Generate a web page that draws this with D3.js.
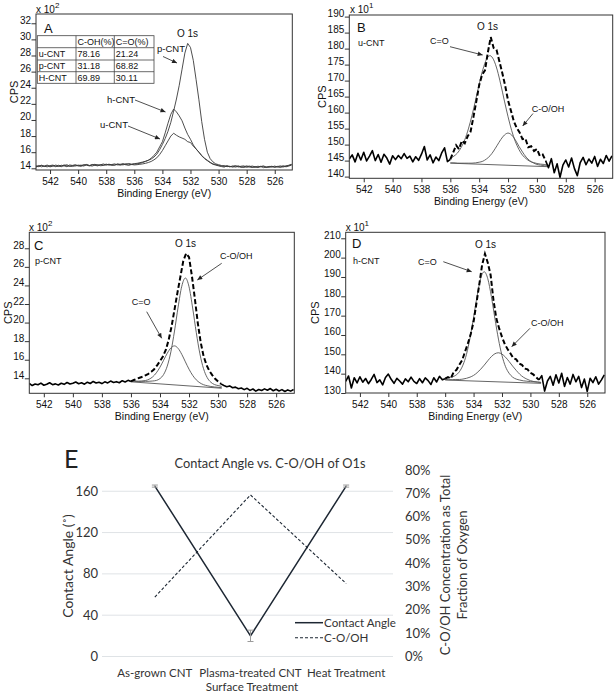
<!DOCTYPE html>
<html><head><meta charset="utf-8">
<script src="https://cdn.jsdelivr.net/npm/d3@7"></script>
<style>body{margin:0;background:#fff}svg{display:block}</style>
</head><body><svg id="chart" width="614" height="693"></svg>
<script>
// ---------------- DATA ----------------
// XPS energy grid (eV): 543.0 down to 524.8, step 0.2
const energyStart = 543.0, energyStep = 0.2, energyCount = 92;
// fitted-component grid (eV): from 536.0 downward, step 0.25
const fitStart = 536.0, fitStep = 0.25;
const xTicks = [542, 540, 538, 536, 534, 532, 530, 528, 526];

// Panel A (x10^2 CPS)
const aPCNT = [14.22,14.35,14.18,14.30,14.40,14.25,14.33,14.20,14.38,14.28,14.42,14.30,14.24,14.36,14.45,14.32,14.40,14.28,14.44,14.35,14.48,14.37,14.30,14.46,14.40,14.52,14.38,14.47,14.55,14.42,14.50,14.58,14.45,14.60,14.52,14.58,
  14.62,14.70,14.78,14.88,15.00,15.15,15.40,15.75,16.30,16.95,17.70,18.60,19.70,21.10,22.60,24.30,26.30,28.30,29.50,29.00,27.40,25.00,22.50,19.80,17.60,16.00,15.20,14.80,14.55,14.45,
  14.35,14.22,14.30,14.18,14.28,14.15,14.24,14.12,14.20,14.30,14.16,14.10,14.22,14.14,14.25,14.08,14.18,14.12,14.20,14.15,14.24,14.10,14.22,14.30,14.38,14.50];
const aHCNT = [14.30,14.20,14.36,14.25,14.18,14.34,14.40,14.27,14.22,14.38,14.30,14.20,14.42,14.35,14.28,14.40,14.33,14.46,14.38,14.30,14.42,14.50,14.36,14.44,14.54,14.40,14.50,14.44,14.38,14.56,14.48,14.42,14.58,14.50,14.46,14.52,
  14.55,14.62,14.72,14.85,15.00,15.25,15.60,16.00,16.65,17.30,18.40,19.60,20.70,21.35,21.00,20.50,19.90,19.00,18.20,17.60,16.90,16.40,16.00,15.60,15.25,15.00,14.75,14.55,14.45,14.35,
  14.28,14.35,14.20,14.26,14.14,14.24,14.30,14.18,14.10,14.22,14.28,14.16,14.12,14.26,14.18,14.22,14.10,14.24,14.16,14.28,14.14,14.20,14.32,14.18,14.28,14.40];
const aUCNT = [14.15,14.28,14.38,14.22,14.32,14.18,14.26,14.40,14.30,14.20,14.34,14.44,14.28,14.22,14.36,14.30,14.24,14.38,14.48,14.34,14.28,14.40,14.46,14.32,14.36,14.44,14.50,14.36,14.42,14.48,14.38,14.52,14.44,14.36,14.48,14.42,
  14.45,14.50,14.55,14.62,14.72,14.85,15.05,15.30,15.70,16.20,16.80,17.40,18.00,18.35,18.10,17.90,17.75,17.60,17.30,17.20,16.75,16.40,16.00,15.55,15.20,14.95,14.70,14.50,14.40,14.30,
  14.22,14.15,14.32,14.20,14.25,14.34,14.16,14.26,14.30,14.12,14.20,14.28,14.18,14.10,14.22,14.30,14.14,14.20,14.26,14.12,14.22,14.30,14.16,14.26,14.34,14.45];
const tableRows = ["u-CNT", "p-CNT", "H-CNT"];
const tableCOH = ["78.16", "31.18", "69.89"];
const tableCO = ["21.24", "68.82", "30.11"];

// Panel B: u-CNT (x10 CPS)
const bData = [145.5,146.8,144.6,147.3,145.2,147.6,144.9,146.4,148.1,145.0,146.9,144.5,147.0,145.8,143.9,146.5,145.3,146.6,145.6,147.2,145.7,146.4,144.6,146.2,145.1,147.0,149.4,145.2,146.8,144.3,146.1,145.0,147.4,149.0,144.7,145.4,
  147.6,149.8,148.6,151.2,150.4,152.6,154.0,158.6,163.5,168.6,171.8,173.2,178.8,183.6,180.2,179.6,176.0,172.4,168.4,163.8,160.6,157.3,155.2,153.8,151.7,151.9,149.2,149.5,148.0,148.6,146.5,146.9,145.0,
  142.8,145.6,141.2,144.0,139.8,143.6,145.2,143.0,145.8,142.5,140.3,144.4,146.0,143.7,145.5,144.2,146.3,143.2,145.4,144.1,146.6,144.8,146.5];
const bCO = [145.7,146.4,147.4,149.1,151.5,154.9,159.1,163.9,168.9,173.4,176.6,177.8,176.5,173.3,168.7,163.6,158.7,154.4,151.0,148.5,146.7,145.6,144.8,144.4,144.1,143.9,143.8,143.6];
const bCOH = [144.3,144.3,144.2,144.2,144.2,144.2,144.2,144.3,144.5,144.8,145.5,146.5,148.0,149.8,151.6,153.0,153.6,153.0,151.5,149.5,147.7,146.1,145.0,144.3,143.8,143.6,143.4,143.3];
const bBackground = [144.2, 143.1];

// Panel C: p-CNT (x10^2 CPS)
const cData = [13.45,13.22,13.38,13.30,13.48,13.25,13.36,13.52,13.31,13.40,13.28,13.47,13.35,13.55,13.38,13.46,13.60,13.42,13.51,13.37,13.58,13.44,13.66,13.49,13.57,13.43,13.62,13.50,13.70,13.55,13.64,13.52,13.74,13.60,13.78,13.66,
  13.82,13.95,14.06,14.16,14.32,14.48,14.70,14.98,15.40,15.85,16.35,17.05,18.15,19.60,21.40,23.20,24.90,26.60,27.45,27.05,25.00,22.60,20.00,17.90,16.40,15.45,14.80,14.35,13.95,13.65,13.40,
  13.22,13.10,13.18,12.98,13.05,12.88,12.95,12.78,12.92,12.70,12.85,12.62,12.80,12.68,12.86,12.72,12.90,12.66,12.82,12.64,12.78,12.58,12.75,12.62,12.80];
const cCO = [13.69,13.68,13.67,13.70,13.76,13.90,14.16,14.59,15.20,15.94,16.69,17.27,17.49,17.22,16.58,15.77,14.98,14.32,13.83,13.51,13.31,13.20,13.12,13.07,13.03,12.99];
const cCOH = [13.71,13.69,13.68,13.68,13.67,13.68,13.71,13.77,13.97,14.41,15.31,16.85,19.09,21.68,23.91,24.80,23.86,21.57,18.92,16.63,15.03,14.08,13.58,13.33,13.22,13.13];
const cBackground = [13.62, 12.93];

// Panel D: h-CNT (x10 CPS)
const dData = [136.0,138.8,132.6,137.9,135.2,138.4,135.6,137.5,134.8,137.0,139.6,135.4,136.8,134.2,138.0,139.8,137.1,135.0,137.6,136.2,134.6,137.3,135.8,138.2,136.0,134.9,137.4,135.3,137.8,136.4,134.4,137.9,135.7,138.6,136.8,137.4,
  138.2,137.6,140.8,142.0,144.6,147.0,151.4,155.6,160.5,166.8,176.4,186.0,196.2,202.0,197.4,191.0,178.0,168.6,163.4,159.0,155.2,152.6,150.4,148.0,147.4,145.2,144.6,142.6,142.2,140.4,139.6,138.2,136.8,
  139.0,131.0,136.2,138.6,134.0,139.4,135.2,140.2,133.4,138.0,134.6,139.6,135.8,138.6,132.8,137.2,130.8,137.6,135.4,138.4,134.6,136.8,139.4];
const dCO = [137.7,137.9,138.3,139.2,141.0,144.4,150.0,158.4,169.0,180.2,189.3,192.7,189.1,180.0,168.6,157.9,149.4,143.6,140.2,138.2,137.2,136.7,136.3,136.1,135.9,135.8,135.7,135.5];
const dCOH = [137.0,136.9,136.9,137.0,137.0,137.2,137.6,138.2,139.1,140.5,142.3,144.4,146.7,148.8,150.3,150.8,150.1,148.5,146.3,143.9,141.7,139.7,138.2,137.2,136.4,135.9,135.6,135.4];
const dBackground = [136.7, 135.0];

// Panel E
const treatments = ["As-grown CNT", "Plasma-treated CNT", "Heat Treatment"];
const contactAngle = [165, 20, 165];
const contactAngleErr = [1, 5.5, 1];
const coohFraction = [0.255, 0.693, 0.313];
const angleTicks = [0, 40, 80, 120, 160];
const fractionTicks = [0, 0.1, 0.2, 0.3, 0.4, 0.5, 0.6, 0.7, 0.8];

// ---------------- DRAWING ----------------
const svg = d3.select('#chart');
const FONT = "'Liberation Sans', Arial, sans-serif";
const EFONT = "Lato, 'Open Sans', sans-serif";
const energyGrid = d3.range(energyCount).map(i => +(energyStart - i * energyStep).toFixed(2));
const defs = svg.append('defs');
defs.append('marker').attr('id', 'arrow').attr('viewBox', '0 0 10 10')
  .attr('refX', 10).attr('refY', 5).attr('markerUnits', 'userSpaceOnUse')
  .attr('markerWidth', 6).attr('markerHeight', 5).attr('orient', 'auto')
  .append('path').attr('d', 'M0,0.5 L10,5 L0,9.5 z').attr('fill', '#222');

function txt(x, y, s, size, opts = {}) {
  return svg.append('text').attr('x', x).attr('y', y).attr('font-family', opts.font || FONT)
    .attr('font-size', size).attr('fill', opts.fill || '#111')
    .attr('text-anchor', opts.anchor || 'start').text(s);
}
function arrow(x1, y1, x2, y2) {
  svg.append('line').attr('x1', x1).attr('y1', y1).attr('x2', x2).attr('y2', y2)
    .attr('stroke', '#222').attr('stroke-width', 0.8).attr('marker-end', 'url(#arrow)');
}
function mult(x, y, exp) {
  const t = txt(x, y, 'x 10', 10);
  t.append('tspan').attr('dy', -5).attr('font-size', 8).text(exp);
}

function xpsPanel(p) {
  const x = d3.scaleLinear().domain([543.0, 524.75]).range([p.left, p.right]);
  const y = d3.scaleLinear().domain(p.yDomain).range([p.bottom, p.top]);
  const g = svg.append('g');
  const clipId = 'clip' + p.id;
  defs.append('clipPath').attr('id', clipId).append('rect')
    .attr('x', p.left).attr('y', p.top).attr('width', p.right - p.left).attr('height', p.bottom - p.top);
  const plot = g.append('g').attr('clip-path', `url(#${clipId})`);
  const line = d3.line().x(d => x(d.e)).y(d => y(d.v));
  const smooth = d3.line().x(d => x(d.e)).y(d => y(d.v)).curve(d3.curveMonotoneX);

  if (p.series) {
    p.series.forEach(s => {
      const pts = s.map((v, i) => ({ e: energyGrid[i], v }));
      plot.append('path').attr('d', line(pts)).attr('fill', 'none')
        .attr('stroke', '#3a3a3a').attr('stroke-width', 0.9);
    });
  }
  if (p.data) {
    const fitE = d3.range(p.co.length).map(i => fitStart - i * fitStep);
    const bgPts = [{ e: fitE[0], v: p.bg[0] }, { e: fitE[fitE.length - 1], v: p.bg[1] }];
    plot.append('path').attr('d', line(bgPts)).attr('fill', 'none').attr('stroke', '#555').attr('stroke-width', 0.9);
    [p.co, p.coh].forEach(c => {
      const pts = c.map((v, i) => ({ e: fitE[i], v }));
      plot.append('path').attr('d', smooth(pts)).attr('fill', 'none').attr('stroke', '#555').attr('stroke-width', 0.9);
    });
    const pts = p.data.map((v, i) => ({ e: energyGrid[i], v }));
    const a = p.dash[0], b = p.dash[1];
    [pts.slice(0, a + 1), pts.slice(b)].forEach(seg => {
      plot.append('path').attr('d', line(seg)).attr('fill', 'none').attr('stroke', '#000')
        .attr('stroke-width', 1.6).attr('stroke-linejoin', 'round');
    });
    plot.append('path').attr('d', line(pts.slice(a, b + 1))).attr('fill', 'none').attr('stroke', '#000')
      .attr('stroke-width', 2).attr('stroke-dasharray', '5,2.5');
  }

  const xa = g.append('g').attr('transform', `translate(0,${p.bottom})`)
    .call(d3.axisBottom(x).tickValues(xTicks).tickSize(4).tickPadding(4).tickFormat(d3.format('d')));
  xa.select('.domain').remove();
  xa.selectAll('line').attr('stroke', '#333');
  xa.selectAll('text').attr('font-family', FONT).attr('font-size', 10).attr('fill', '#111');

  const ya = g.append('g').attr('transform', `translate(${p.left},0)`)
    .call(d3.axisLeft(y).tickValues(p.yTicks).tickSize(4.5).tickPadding(0.5).tickFormat(d3.format('d')));
  ya.select('.domain').remove();
  ya.selectAll('line').attr('stroke', '#333');
  ya.selectAll('text').attr('dy', '0').attr('font-family', FONT).attr('font-size', 10).attr('fill', '#111');

  g.append('rect').attr('x', p.left).attr('y', p.top).attr('width', p.right - p.left)
    .attr('height', p.bottom - p.top).attr('fill', 'none').attr('stroke', '#333').attr('stroke-width', 1);

  txt((p.left + p.right) / 2, p.bottom + 27, 'Binding Energy (eV)', 10.5, { anchor: 'middle' });
  svg.append('text').attr('transform', `translate(${p.cpsX},${(p.top + p.bottom) / 2}) rotate(-90)`)
    .attr('text-anchor', 'middle').attr('dy', '0.35em').attr('font-family', FONT).attr('font-size', 11)
    .attr('fill', '#111').text('CPS');
}

// Panel A
xpsPanel({ id: 'A', left: 36, right: 292.3, top: 14, bottom: 170, yDomain: [13.79, 33.15],
  yTicks: [14, 16, 18, 20, 22, 24, 26, 28, 30, 32], series: [aUCNT, aHCNT, aPCNT], cpsX: 14 });
mult(36, 13, '2');
txt(44, 33, 'A', 13);
// table
const tCols = [37.3, 76, 114.3, 154], tRows = [35.7, 47.7, 60, 71.7, 83.3];
const tg = svg.append('g');
tg.append('rect').attr('x', tCols[0]).attr('y', tRows[0]).attr('width', tCols[3] - tCols[0])
  .attr('height', tRows[4] - tRows[0]).attr('fill', '#fff').attr('stroke', '#444').attr('stroke-width', 0.8);
tCols.slice(1, 3).forEach(c => tg.append('line').attr('x1', c).attr('x2', c).attr('y1', tRows[0]).attr('y2', tRows[4]).attr('stroke', '#444').attr('stroke-width', 0.8));
tRows.slice(1, 4).forEach(r => tg.append('line').attr('x1', tCols[0]).attr('x2', tCols[3]).attr('y1', r).attr('y2', r).attr('stroke', '#444').attr('stroke-width', 0.8));
txt(tCols[1] + 1.5, tRows[0] + 9.3, 'C-OH(%)', 9);
txt(tCols[2] + 1.5, tRows[0] + 9.3, 'C=O(%)', 9);
tableRows.forEach((r, i) => {
  txt(tCols[0] + 1.5, tRows[i + 1] + 9.3, r, 9);
  txt(tCols[1] + 1.5, tRows[i + 1] + 9.3, tableCOH[i], 9);
  txt(tCols[2] + 1.5, tRows[i + 1] + 9.3, tableCO[i], 9);
});
txt(177, 37, 'O 1s', 10);
txt(157, 51.5, 'p-CNT', 9.5); arrow(163, 56.5, 177, 63);
txt(107, 102.5, 'h-CNT', 9.5); arrow(135, 100, 165.5, 112);
txt(100, 127.5, 'u-CNT', 9.5); arrow(128, 126, 160, 139);

// Panel B
xpsPanel({ id: 'B', left: 349.3, right: 612.7, top: 15, bottom: 178.3, yDomain: [139.47, 190.5],
  yTicks: [140, 145, 150, 155, 160, 165, 170, 175, 180, 185, 190], data: bData, dash: [35, 68],
  co: bCO, coh: bCOH, bg: bBackground, cpsX: 321.7 });
mult(350, 13, '1');
txt(357, 31.5, 'B', 13);
txt(358, 46, 'u-CNT', 9);
txt(477, 30, 'O 1s', 10);
txt(430, 44, 'C=O', 9); arrow(450, 46.7, 482.7, 55);
txt(531.7, 111.6, 'C-O/OH', 9); arrow(533, 113.5, 522.7, 126);

// Panel C
xpsPanel({ id: 'C', left: 29.3, right: 294.3, top: 232.3, bottom: 393.3, yDomain: [12.385, 29.72],
  yTicks: [14, 16, 18, 20, 22, 24, 26, 28], data: cData, dash: [35, 66],
  co: cCO, coh: cCOH, bg: cBackground, cpsX: 8 });
mult(29, 230.5, '2');
txt(34, 250, 'C', 13);
txt(35, 264.3, 'p-CNT', 9);
txt(175, 246.6, 'O 1s', 10);
txt(220, 259.3, 'C-O/OH', 9); arrow(221.7, 263.3, 197.3, 280);
txt(131.7, 305, 'C=O', 9); arrow(146.7, 311.7, 161.7, 338.3);

// Panel D
xpsPanel({ id: 'D', left: 345.7, right: 605, top: 232.3, bottom: 393, yDomain: [130, 213.1],
  yTicks: [130, 140, 150, 160, 170, 180, 190, 200, 210], data: dData, dash: [35, 68],
  co: dCO, coh: dCOH, bg: dBackground, cpsX: 315 });
mult(345.7, 230.5, '1');
txt(352, 248, 'D', 13);
txt(353, 264.3, 'h-CNT', 9);
txt(475, 248.3, 'O 1s', 10);
txt(418, 265, 'C=O', 9); arrow(443.3, 261.7, 471.7, 271.7);
txt(531, 326, 'C-O/OH', 9); arrow(530, 328.3, 511.7, 346.7);

// Panel E
const ex = d3.scalePoint().domain(treatments).range([107, 394]).padding(0.5);
const eyL = d3.scaleLinear().domain([0, 180]).range([656.5, 470.6]);
const eyR = d3.scaleLinear().domain([0, 0.8]).range([656.5, 470]);
const eg = svg.append('g');
angleTicks.forEach(t => {
  eg.append('line').attr('x1', 102).attr('x2', 393).attr('y1', eyL(t)).attr('y2', eyL(t))
    .attr('stroke', '#dfe3e6').attr('stroke-width', 1);
  eg.append('text').attr('x', 98).attr('y', eyL(t)).attr('dy', '0.35em').attr('text-anchor', 'end')
    .attr('font-family', EFONT).attr('font-size', 13).attr('fill', '#333').text(t);
});
fractionTicks.forEach(t => {
  eg.append('text').attr('x', 405).attr('y', eyR(t)).attr('dy', '0.35em').attr('text-anchor', 'start')
    .attr('font-family', EFONT).attr('font-size', 13).attr('fill', '#333').text(d3.format('.0%')(t));
});
const angleLine = d3.line().x((d, i) => ex(treatments[i])).y(d => eyL(d));
const fracLine = d3.line().x((d, i) => ex(treatments[i])).y(d => eyR(d));
eg.append('path').attr('d', fracLine(coohFraction)).attr('fill', 'none').attr('stroke', '#1d2733')
  .attr('stroke-width', 1.1).attr('stroke-dasharray', '3,2');
eg.append('path').attr('d', angleLine(contactAngle)).attr('fill', 'none').attr('stroke', '#1d2733')
  .attr('stroke-width', 1.5);
contactAngle.forEach((v, i) => {
  const cx = ex(treatments[i]), y1 = eyL(v - contactAngleErr[i]), y2 = eyL(v + contactAngleErr[i]);
  eg.append('line').attr('x1', cx).attr('x2', cx).attr('y1', y1).attr('y2', y2).attr('stroke', '#9a9a9a').attr('stroke-width', 1);
  [y1, y2].forEach(yy => eg.append('line').attr('x1', cx - 3).attr('x2', cx + 3).attr('y1', yy).attr('y2', yy)
    .attr('stroke', '#9a9a9a').attr('stroke-width', 1));
});
// legend
eg.append('line').attr('x1', 295).attr('x2', 323).attr('y1', 622.7).attr('y2', 622.7).attr('stroke', '#1d2733').attr('stroke-width', 1.5);
eg.append('line').attr('x1', 295).attr('x2', 323).attr('y1', 637.7).attr('y2', 637.7).attr('stroke', '#1d2733').attr('stroke-width', 1.1).attr('stroke-dasharray', '3,2');
txt(324, 626.8, 'Contact Angle', 11.6, { font: EFONT, fill: '#333' });
txt(324, 641.8, 'C-O/OH', 11.6, { font: EFONT, fill: '#333' });
// category labels
treatments.forEach(t => {
  txt(ex(t), 677, t, 11.5, { font: EFONT, fill: '#333', anchor: 'middle' });
});
txt(252, 691, 'Surface Treatment', 11.6, { font: EFONT, fill: '#333', anchor: 'middle' });
txt(270, 467.5, 'Contact Angle vs. C-O/OH of O1s', 12.8, { font: EFONT, fill: '#333', anchor: 'middle' });
txt(64, 468, 'E', 25, { font: EFONT, fill: '#222' });
svg.append('text').attr('transform', 'translate(68,566) rotate(-90)').attr('text-anchor', 'middle')
  .attr('dy', '0.35em').attr('font-family', EFONT).attr('font-size', 14).attr('fill', '#333').text('Contact Angle (˚)');
svg.append('text').attr('transform', 'translate(445,565) rotate(-90)').attr('text-anchor', 'middle')
  .attr('dy', '0.35em').attr('font-family', EFONT).attr('font-size', 13).attr('fill', '#333').text('C-O/OH Concentration as Total');
svg.append('text').attr('transform', 'translate(462,565) rotate(-90)').attr('text-anchor', 'middle')
  .attr('dy', '0.35em').attr('font-family', EFONT).attr('font-size', 13).attr('fill', '#333').text('Fraction of Oxygen');
</script></body></html>
